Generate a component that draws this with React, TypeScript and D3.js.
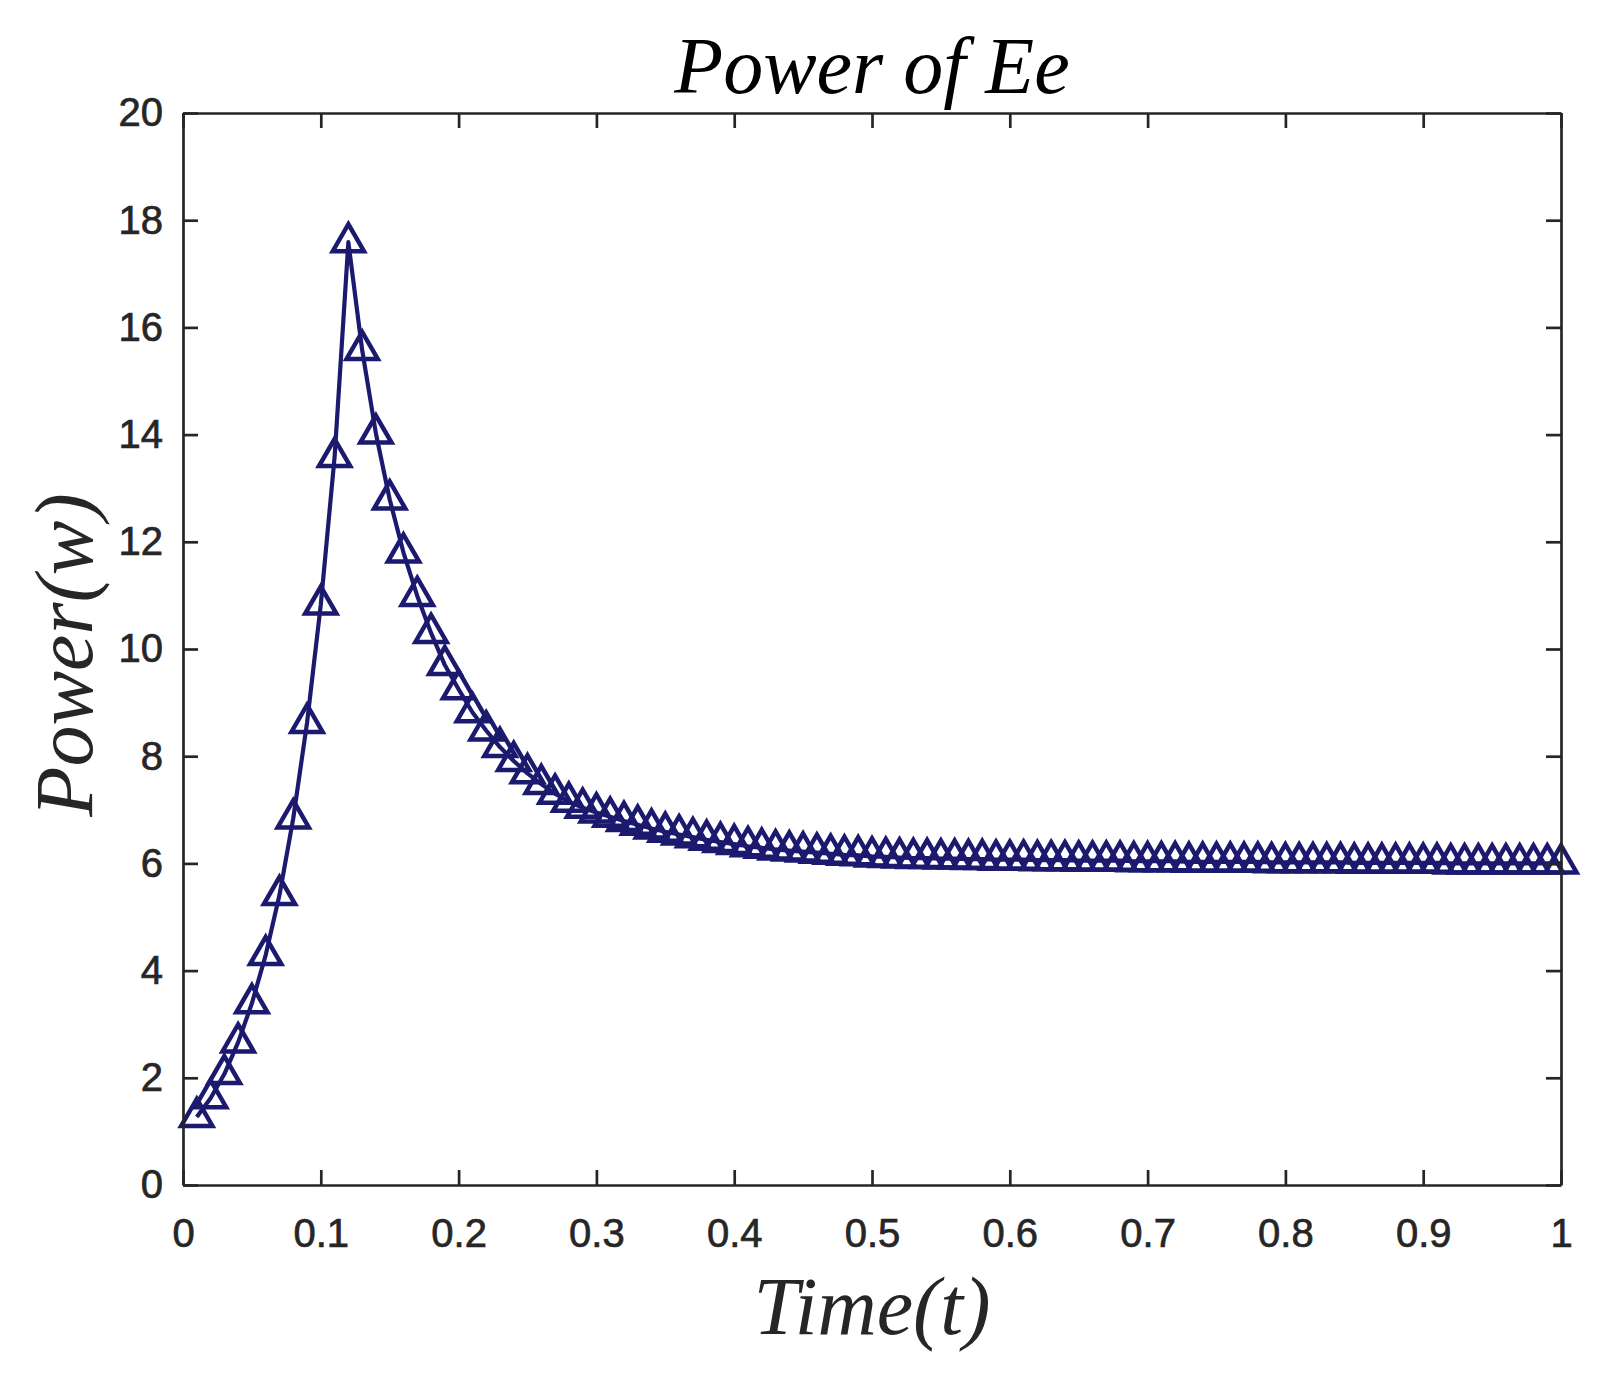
import { useRef, useEffect } from "react";
import * as d3 from "d3";

// sampled every 0.01 s, from t = 0.01 to t = 1.00
const timeStep = 0.01;

const power = [
  1.27, 1.62, 2.07, 2.66, 3.39, 4.29, 5.41, 6.84, 8.62, 10.83, 13.58, 17.59,
  15.58, 14.02, 12.79, 11.8, 10.99, 10.3, 9.7, 9.25, 8.82, 8.48,
  8.17, 7.91, 7.68, 7.48, 7.3, 7.15, 7.04, 6.95, 6.87, 6.79,
  6.72, 6.65, 6.59, 6.54, 6.49, 6.44, 6.4, 6.36, 6.32, 6.29,
  6.26, 6.24, 6.22, 6.2, 6.18, 6.16, 6.15, 6.13, 6.12, 6.11,
  6.1, 6.1, 6.09, 6.09, 6.08, 6.08, 6.07, 6.07, 6.07, 6.06,
  6.06, 6.06, 6.05, 6.05, 6.05, 6.05, 6.04, 6.04, 6.04, 6.04,
  6.03, 6.03, 6.03, 6.03, 6.03, 6.03, 6.02, 6.02, 6.02, 6.02,
  6.02, 6.02, 6.01, 6.01, 6.01, 6.01, 6.01, 6.01, 6.01, 6.0,
  6.0, 6.0, 6.0, 6.0, 6.0, 6.0, 6.0, 6.0,
];

const xTicks = [0, 0.1, 0.2, 0.3, 0.4, 0.5, 0.6, 0.7, 0.8, 0.9, 1];
const xTickLabels = ["0", "0.1", "0.2", "0.3", "0.4", "0.5", "0.6", "0.7", "0.8", "0.9", "1"];
const yTicks = [0, 2, 4, 6, 8, 10, 12, 14, 16, 18, 20];

const title = "Power of Ee";
const xLabel = "Time(t)";
const yLabel = "Power(w)";

export default function App() {
  const ref = useRef<SVGSVGElement | null>(null);

  useEffect(() => {
    if (!ref.current) return;

    const W = 1603;
    const H = 1379;
    const margin = { top: 113, right: 42, bottom: 194, left: 183 };

    const svg = d3.select(ref.current);
    svg.selectAll("*").remove();
    svg.attr("width", W).attr("height", H);

    svg.append("rect").attr("width", W).attr("height", H).attr("fill", "white");

    const x = d3.scaleLinear().domain([0, 1]).range([margin.left, W - margin.right]);
    const y = d3.scaleLinear().domain([0, 20]).range([H - margin.bottom, margin.top]);

    const points: [number, number][] = power.map((v, i) => [(i + 1) * timeStep, v]);
    const color = "#1b1a6e";

    const line = d3
      .line<[number, number]>()
      .x((d) => x(d[0]))
      .y((d) => y(d[1]));

    svg
      .append("path")
      .datum(points)
      .attr("fill", "none")
      .attr("stroke", color)
      .attr("stroke-width", 4.2)
      .attr("stroke-linejoin", "round")
      .attr("d", line);

    // triangle markers, centroid on the data point
    svg
      .append("g")
      .selectAll("path")
      .data(points)
      .join("path")
      .attr("transform", (d) => `translate(${x(d[0])},${y(d[1])})`)
      .attr("d", "M0,-18L15.6,9L-15.6,9Z")
      .attr("fill", "none")
      .attr("stroke", color)
      .attr("stroke-width", 4.5)
      .attr("stroke-linejoin", "miter");

    const axisColor = "#262626";
    const styleAxis = (g: d3.Selection<SVGGElement, unknown, null, undefined>) => {
      g.attr("color", axisColor)
        .attr("font-size", 40)
        .attr("font-family", "'Liberation Sans', Arial, sans-serif");
      g.selectAll("path, line").attr("stroke-width", 2.7);
      g.selectAll("text").attr("stroke", axisColor).attr("stroke-width", 0.7);
    };

    const xMin = x(0);
    const xMax = x(1);
    const yMin = y(0);
    const yMax = y(20);

    svg
      .append("g")
      .attr("transform", `translate(0,${yMin})`)
      .call(
        d3
          .axisBottom(x)
          .tickValues(xTicks)
          .tickSize(-15)
          .tickSizeOuter(0)
          .tickPadding(34)
          .tickFormat((_, i) => xTickLabels[i])
      )
      .call(styleAxis);

    svg
      .append("g")
      .attr("transform", `translate(0,${yMax})`)
      .call(d3.axisTop(x).tickValues(xTicks).tickSize(-15).tickSizeOuter(0).tickFormat(() => ""))
      .call(styleAxis);

    svg
      .append("g")
      .attr("transform", `translate(${xMin},0)`)
      .call(d3.axisLeft(y).tickValues(yTicks).tickSize(-15).tickSizeOuter(0).tickPadding(20))
      .call(styleAxis);

    svg
      .append("g")
      .attr("transform", `translate(${xMax},0)`)
      .call(d3.axisRight(y).tickValues(yTicks).tickSize(-15).tickSizeOuter(0).tickFormat(() => ""))
      .call(styleAxis);

    const cx = (xMin + xMax) / 2;
    const cy = (yMin + yMax) / 2;
    const serif = "'Liberation Serif', 'Times New Roman', serif";

    svg
      .append("text")
      .attr("x", cx)
      .attr("y", 93)
      .attr("text-anchor", "middle")
      .attr("font-family", serif)
      .attr("font-style", "italic")
      .attr("font-size", 80)
      .attr("fill", "#000")
      .text(title);

    svg
      .append("text")
      .attr("x", cx)
      .attr("y", 1334)
      .attr("text-anchor", "middle")
      .attr("font-family", serif)
      .attr("font-style", "italic")
      .attr("font-size", 82)
      .attr("fill", axisColor)
      .text(xLabel);

    svg
      .append("text")
      .attr("transform", `translate(92,${cy + 6}) rotate(-90)`)
      .attr("text-anchor", "middle")
      .attr("font-family", serif)
      .attr("font-style", "italic")
      .attr("font-size", 82)
      .attr("fill", axisColor)
      .text(yLabel);
  }, []);

  return <svg ref={ref} style={{ position: "absolute", left: 0, top: 0, display: "block" }} />;
}
